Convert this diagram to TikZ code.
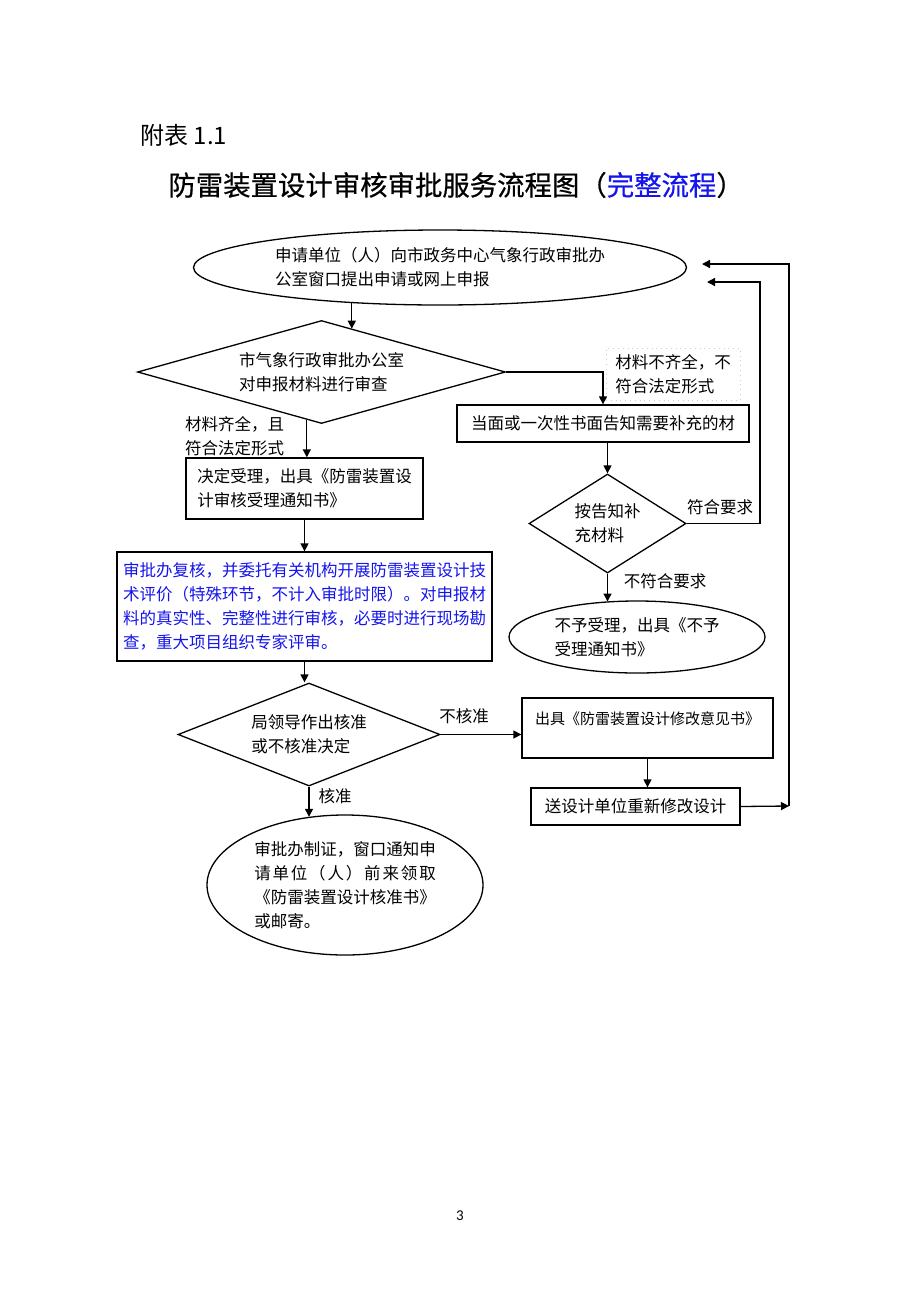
\documentclass[tikz,border=0pt]{standalone}
\usepackage{fontspec}
\setmainfont{Noto Sans CJK SC}
\newfontfamily\titlefont{Noto Sans CJK SC}[FakeBold = 0.6]
\newfontfamily\pagenumfont{Carlito}
\usetikzlibrary{shapes.geometric, arrows.meta}
\definecolor{approvalblue}{RGB}{20, 20, 235}

\begin{document}
\begin{tikzpicture}[x = 0.5pt, y = -0.5pt,
	font = \fontsize{8.25}{12}\selectfont,
	box/.style = {draw, line width = 0.65pt, rectangle, inner sep = 0pt, align = left},
	oval/.style = {draw, line width = 0.65pt, ellipse, inner sep = 0pt, align = left},
	choice/.style = {draw, line width = 0.65pt, diamond, inner sep = 0pt, align = left},
	note/.style = {inner sep = 0pt, align = left},
	flow/.style = {line width = 0.65pt, -{Triangle[length = 4pt, width = 4pt]}}]
	\useasboundingbox (0, 0) rectangle (920, 1302);

	\node[note, anchor = west] (tablenum) at (140, 135) {\fontsize{12}{14}\selectfont 附表 1.1};
	\node[note, anchor = west] (title) at (168, 185) {\titlefont\fontsize{13.7}{16}\selectfont 防雷装置设计审核审批服务流程图（\textcolor{approvalblue}{完整流程}）};

	\node[oval, minimum width = 246.5pt, minimum height = 37.5pt] (apply) at (440, 267.5) {申请单位（人）向市政务中心气象行政审批办\\公室窗口提出申请或网上申报};
	\node[choice, aspect = 3.57, minimum width = 184pt, minimum height = 51.5pt] (check) at (321.5, 372) {市气象行政审批办公室\\对申报材料进行审查};
	\node[note, draw = gray!40, dotted, minimum width = 67pt, minimum height = 26pt] (lackmat) at (673, 374) {材料不齐全，不\\符合法定形式};
	\node[box, minimum width = 146pt, minimum height = 18.5pt] (notify) at (603, 423.5) {当面或一次性书面告知需要补充的材};
	\node[choice, aspect = 1.59, minimum width = 78.5pt, minimum height = 49.5pt] (resubmit) at (607.5, 523.5) {按告知补\\充材料};
	\node[note] (yesreq) at (720, 507) {符合要求};
	\node[note] (noreq) at (665, 581) {不符合要求};
	\node[oval, minimum width = 128pt, minimum height = 36pt] (reject) at (637, 637) {不予受理，出具《不予\\受理通知书》};

	\node[note] (okmat) at (234.5, 436) {材料齐全，且\\符合法定形式};
	\node[box, minimum width = 118.5pt, minimum height = 30.5pt] (accept) at (304.5, 488.5) {决定受理，出具《防雷装置设\\计审核受理通知书》};
	\node[box, minimum width = 187.5pt, minimum height = 54.5pt, text = approvalblue] (review) at (304.5, 606.5) {审批办复核，并委托有关机构开展防雷装置设计技\\术评价（特殊环节，不计入审批时限）。对申报材\\料的真实性、完整性进行审核，必要时进行现场勘\\查，重大项目组织专家评审。};
	\node[choice, aspect = 2.54, minimum width = 131pt, minimum height = 51.5pt] (decide) at (309, 734.5) {局领导作出核准\\或不核准决定};
	\node[note] (notok) at (464, 716) {不核准};
	\node[note] (ok) at (335, 796) {核准};
	\node[box, minimum width = 125.5pt, text height = 13pt, text depth = 17pt, font = \fontsize{7.5}{12}\selectfont] (opinion) at (647.5, 728) {出具《防雷装置设计修改意见书》};
	\node[box, minimum width = 104.5pt, minimum height = 18.5pt] (revise) at (635.5, 806.5) {送设计单位重新修改设计};
	\node[oval, minimum width = 138pt, minimum height = 70pt] (permit) at (345, 885) {审批办制证，窗口通知申\\\makebox[11em]{请\hfill 单\hfill 位\hfill （\hfill 人\hfill ）\hfill 前\hfill 来\hfill 领\hfill 取}\\《防雷装置设计核准书》\\或邮寄。};

	\node[font = \pagenumfont\fontsize{7.5}{9}\selectfont] (pagenum) at (460, 1216) {3};

	\coordinate (backin) at (707, 282);
	\coordinate (backturn) at (760, 282);
	\coordinate (loopin) at (702, 264);
	\coordinate (loopturn) at (789, 806);

	\draw[flow] (apply.202) -- (apply.202 |- check.54);
	\draw[flow] (check.east) -| (notify.north);
	\draw[flow] (check.253) -- (check.253 |- accept.north);
	\draw[flow] (notify.south -| resubmit.north) -- (resubmit.north);
	\draw[flow] (resubmit.east) -| (backturn) -- (backin);
	\draw[flow] (resubmit.south) -- (resubmit.south |- reject.132);
	\draw[flow] (accept.south) -- (review.north);
	\draw[flow] (review.south) -- (review.south |- decide.north);
	\draw[flow] (decide.east) -- (decide.east -| opinion.west);
	\draw[flow] (opinion.south) -- (opinion.south |- revise.north);
	\draw[flow] (revise.east) -- (loopturn);
	\draw[flow] (loopturn) |- (loopin);
	\draw[flow] (decide.south) -- (decide.south |- permit.118);
\end{tikzpicture}
\end{document}
